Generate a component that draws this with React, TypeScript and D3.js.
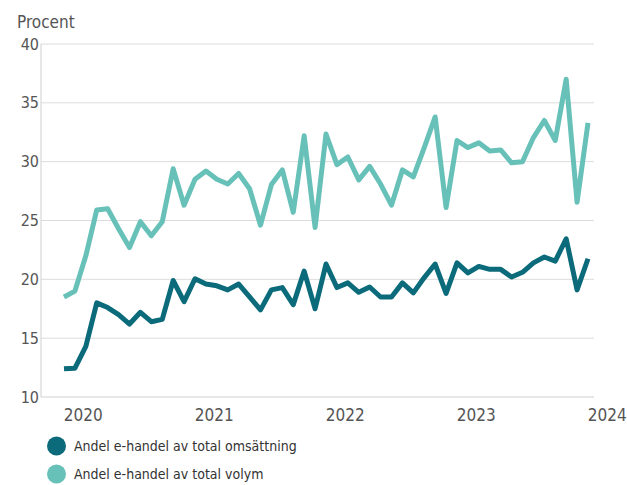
import React from "react";
import * as d3 from "d3";

const months: string[] = (() => {
  const out: string[] = [];
  for (let y = 2019; y <= 2023; y++) {
    for (let m = 1; m <= 12; m++) {
      if ((y === 2019 && m < 11) || (y === 2023 && m > 11)) continue;
      out.push(`${y}-${String(m).padStart(2, "0")}`);
    }
  }
  return out;
})();

const omsattning: number[] = [
  12.4, 12.45, 14.3, 18.0, 17.6, 17.0, 16.2, 17.2, 16.4, 16.6, 19.9, 18.1,
  20.05, 19.6, 19.45, 19.1, 19.6, 18.5, 17.4, 19.1, 19.3, 17.85, 20.7, 17.5,
  21.3, 19.3, 19.7, 18.9, 19.35, 18.5, 18.5, 19.7, 18.85, 20.15, 21.3, 18.8,
  21.4, 20.55, 21.1, 20.85, 20.85, 20.2, 20.6, 21.4, 21.9, 21.55, 23.45, 19.1,
  21.75,
];

const volym: number[] = [
  18.5, 19.0, 22.0, 25.9, 26.0, 24.3, 22.7, 24.9, 23.7, 24.9, 29.4, 26.3,
  28.5, 29.2, 28.5, 28.1, 29.0, 27.7, 24.6, 28.05, 29.3, 25.7, 32.2, 24.4,
  32.35, 29.75, 30.4, 28.45, 29.6, 28.1, 26.3, 29.3, 28.7, 31.2, 33.8, 26.1,
  31.8, 31.2, 31.6, 30.9, 31.0, 29.9, 30.0, 32.05, 33.5, 31.8, 37.0, 26.55,
  33.3,
];

const yTicks: number[] = [10, 15, 20, 25, 30, 35, 40];
const xTickYears: number[] = [2020, 2021, 2022, 2023, 2024];
const seriesNames: string[] = [
  "Andel e-handel av total omsättning",
  "Andel e-handel av total volym",
];
const colors: string[] = ["#0b6b7b", "#68c1b8"];

const toYear = (s: string) => {
  const [y, m] = s.split("-").map(Number);
  return y + (m - 1) / 12;
};

export default function App() {
  const W = 627;
  const H = 485;
  const left = 41;
  const right = 594;
  const top = 44;
  const bottom = 397;

  const x = d3.scaleLinear().domain([toYear(months[0]), toYear(months[months.length - 1])]).range([64, 588]);
  const y = d3.scaleLinear().domain([10, 40]).range([bottom, top]);
  const line = d3
    .line<number>()
    .x((_, i) => x(toYear(months[i])))
    .y((d) => y(d))
    .curve(d3.curveLinear);

  const font = "'Liberation Sans Narrow', 'DejaVu Sans Condensed', 'Roboto', sans-serif";
  const textColor = "#555";

  return (
    <svg
      width={W}
      height={H}
      style={{ position: "absolute", left: 0, top: 0, background: "#fff" }}
      fontFamily={font}
    >
      <text x={17} y={28} fontSize={17} fill={textColor}>
        Procent
      </text>
      {yTicks.map((t) => (
        <g key={t}>
          {t !== 10 && (
            <line x1={left} x2={right} y1={y(t)} y2={y(t)} stroke="#dcdcdc" strokeWidth={1} />
          )}
          <text x={39} y={y(t)} dy="0.35em" textAnchor="end" fontSize={16} fill={textColor}>
            {t}
          </text>
        </g>
      ))}
      <line x1={left} x2={left} y1={top} y2={bottom} stroke="#cfcfcf" strokeWidth={1} />
      <line x1={left} x2={right} y1={bottom} y2={bottom} stroke="#cfcfcf" strokeWidth={1} />
      {xTickYears.map((yr) => (
        <text
          key={yr}
          x={x(yr) - 2.5}
          y={421}
          textAnchor="middle"
          fontSize={17}
          fill={textColor}
        >
          {yr}
        </text>
      ))}
      {[omsattning, volym].map((s, k) => (
        <path
          key={k}
          d={line(s) || ""}
          fill="none"
          stroke={colors[k]}
          strokeWidth={5}
          strokeLinejoin="round"
          strokeLinecap="butt"
        />
      ))}
      {seriesNames.map((n, k) => (
        <g key={n} transform={`translate(0, ${446 + k * 28})`}>
          <circle cx={56.5} cy={0} r={9.5} fill={colors[k]} />
          <text x={74} y={0} dy="0.35em" fontSize={14} fill="#333">
            {n}
          </text>
        </g>
      ))}
    </svg>
  );
}
